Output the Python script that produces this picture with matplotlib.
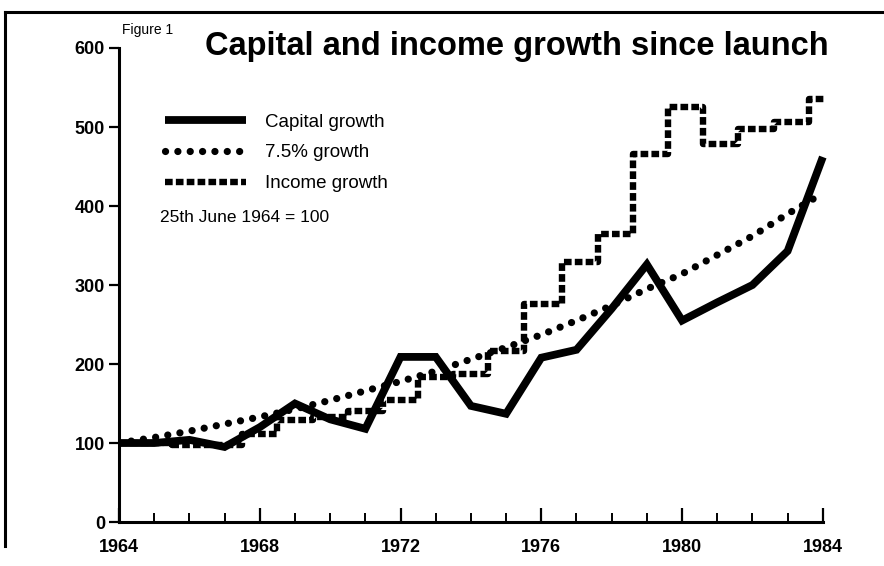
import numpy as np
import matplotlib
matplotlib.use("Agg")
import matplotlib.pyplot as plt
from matplotlib.lines import Line2D

plt.rcParams['font.family'] = ['Liberation Sans', 'DejaVu Sans']

# Capital growth, one value per year
years = [1964, 1965, 1966, 1967, 1968, 1969, 1970, 1971, 1972, 1973, 1974,
         1975, 1976, 1977, 1978, 1979, 1980, 1981, 1982, 1983, 1984]
capital = [100, 100, 104, 95, 120, 150, 130, 118, 209, 209, 147,
           137, 208, 218, 270, 326, 255, 278, 300, 343, 462]

# 7.5% growth line
target = [100, 107, 115, 124, 133, 143, 154, 166, 178, 191, 206,
          221, 237, 255, 274, 295, 314, 338, 362, 390, 416]

# Income growth, step changes
income_x = [1964, 1965.5, 1966.5, 1967.5, 1968.5, 1969.5, 1970.5, 1971.5,
            1972.5, 1973.5, 1974.5, 1975.5, 1976.6, 1977.6, 1978.6, 1979.6,
            1980.6, 1981.6, 1982.6, 1983.6, 1984.1]
income = [100, 97, 98, 112, 129, 133, 141, 155, 183, 187, 216,
          276, 329, 364, 466, 525, 479, 497, 506, 535, 535]

yticks = [0, 100, 200, 300, 400, 500, 600]
xlabels = [1964, 1968, 1972, 1976, 1980, 1984]

fig = plt.figure(figsize=(8.84, 5.66), dpi=100)
ax = fig.add_axes([0.1346, 0.0777, 0.836, 0.8375])

ax.plot(years, capital, color='black', lw=5.6, solid_joinstyle='miter',
        solid_capstyle='butt', label='Capital growth')
ax.plot(years, target, color='black', lw=5.2, linestyle=(0, (0.01, 1.7)),
        dash_capstyle='round', label='7.5% growth')
ax.plot(income_x, income, color='black', lw=4.6, drawstyle='steps-post',
        linestyle=(0, (1.2, 0.5)), dash_capstyle='butt', label='Income growth')

ax.set_xlim(1964, 1985)
ax.set_ylim(0, 600)
for s in ['top', 'right']:
    ax.spines[s].set_visible(False)
ax.spines['bottom'].set_bounds(1964, 1984)
ax.spines['left'].set_linewidth(2.2)
ax.spines['bottom'].set_linewidth(2.2)

ax.set_yticks(yticks)
ax.set_yticklabels([str(v) for v in yticks], fontsize=13, fontweight='bold')
ax.tick_params(axis='y', direction='out', length=7, width=1.6, pad=3)
ax.set_xticks(xlabels)
ax.set_xticklabels([str(v) for v in xlabels], fontsize=13, fontweight='bold')
ax.set_xticks(years, minor=True)
ax.tick_params(axis='x', which='major', direction='in', length=10, width=1.6, pad=12)
ax.tick_params(axis='x', which='minor', direction='in', length=6.5, width=1.4)

leg = ax.legend(loc='upper left', bbox_to_anchor=(0.04, 0.897), frameon=False,
                handlelength=4.3, handletextpad=1.0, labelspacing=0.72,
                fontsize=13.5)

ax.text(0.055, 0.643, '25th June 1964 = 100', transform=ax.transAxes,
        fontsize=12.5, va='center')

fig.text(0.138, 0.947, 'Figure 1', fontsize=10, va='center')
fig.text(0.232, 0.918, 'Capital and income growth since launch', fontsize=23.5,
         fontweight='bold', va='center')

# page frame from the scan
fig.add_artist(Line2D([0.006, 1.0], [0.978, 0.978], color='black', lw=2.2))
fig.add_artist(Line2D([0.006, 0.006], [0.978, 0.035], color='black', lw=2.2))

fig.savefig('out.png', dpi=100)
